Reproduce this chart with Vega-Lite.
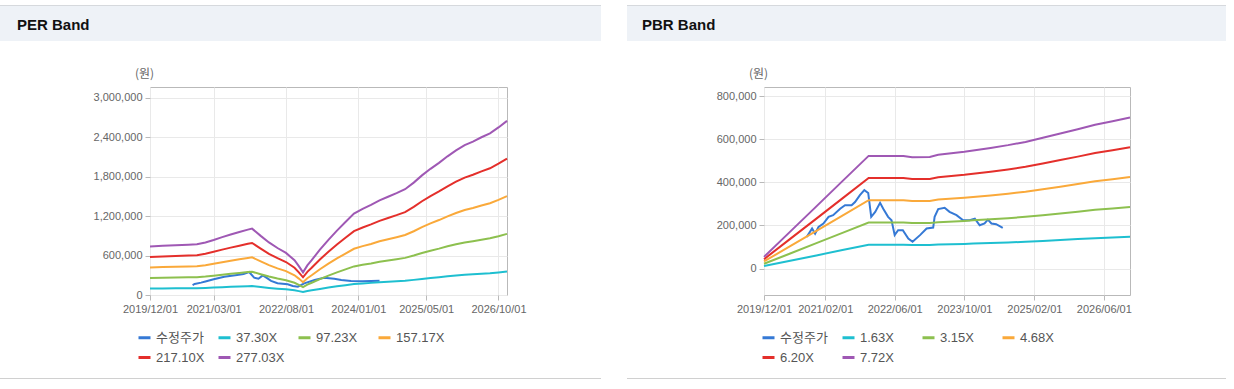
{
  "$schema": "https://vega.github.io/schema/vega-lite/v6.json",
  "background": "white",
  "padding": {"left": 0, "top": 5, "right": 0, "bottom": 0},
  "config": {
    "font": "Liberation Sans",
    "view": {"stroke": "#b9b9b9"},
    "axis": {"labelFont": "Liberation Sans", "labelFontSize": 11, "labelColor": "#666666", "gridColor": "#e9e9e9", "tickColor": "#b9b9b9", "domain": false, "tickSize": 5}
  },
  "datasets": {
    "per": [
      {"d":"2020-10-01","s":"수정주가","v":150000},{"d":"2020-10-16","s":"수정주가","v":168000},{"d":"2020-12-01","s":"수정주가","v":188000},{"d":"2021-01-01","s":"수정주가","v":205000},{"d":"2021-03-01","s":"수정주가","v":240000},{"d":"2021-05-16","s":"수정주가","v":278000},{"d":"2021-08-16","s":"수정주가","v":304000},{"d":"2021-10-01","s":"수정주가","v":318000},{"d":"2021-11-10","s":"수정주가","v":350000},{"d":"2021-12-16","s":"수정주가","v":263000},{"d":"2022-01-16","s":"수정주가","v":248000},{"d":"2022-02-16","s":"수정주가","v":299000},{"d":"2022-03-16","s":"수정주가","v":260000},{"d":"2022-04-16","s":"수정주가","v":215000},{"d":"2022-06-01","s":"수정주가","v":178000},{"d":"2022-08-13","s":"수정주가","v":163000},{"d":"2022-09-19","s":"수정주가","v":137000},{"d":"2022-10-25","s":"수정주가","v":127000},{"d":"2022-12-10","s":"수정주가","v":178000},{"d":"2023-02-22","s":"수정주가","v":228000},{"d":"2023-05-01","s":"수정주가","v":263000},{"d":"2023-07-13","s":"수정주가","v":248000},{"d":"2023-09-01","s":"수정주가","v":228000},{"d":"2023-11-10","s":"수정주가","v":213000},{"d":"2024-02-01","s":"수정주가","v":210000},{"d":"2024-04-01","s":"수정주가","v":213000},{"d":"2024-06-01","s":"수정주가","v":215000},
      {"d":"2019-12-01","s":"37.30X","v":99500},{"d":"2019-12-01","s":"97.23X","v":259400},{"d":"2019-12-01","s":"157.17X","v":419300},{"d":"2019-12-01","s":"217.10X","v":579100},{"d":"2019-12-01","s":"277.03X","v":739000},
      {"d":"2020-03-01","s":"37.30X","v":100700},{"d":"2020-03-01","s":"97.23X","v":262500},{"d":"2020-03-01","s":"157.17X","v":424400},{"d":"2020-03-01","s":"217.10X","v":586200},{"d":"2020-03-01","s":"277.03X","v":748000},
      {"d":"2020-06-01","s":"37.30X","v":101900},{"d":"2020-06-01","s":"97.23X","v":265700},{"d":"2020-06-01","s":"157.17X","v":429500},{"d":"2020-06-01","s":"217.10X","v":593200},{"d":"2020-06-01","s":"277.03X","v":757000},
      {"d":"2020-09-01","s":"37.30X","v":103100},{"d":"2020-09-01","s":"97.23X","v":268800},{"d":"2020-09-01","s":"157.17X","v":434600},{"d":"2020-09-01","s":"217.10X","v":600300},{"d":"2020-09-01","s":"277.03X","v":766000},
      {"d":"2020-11-01","s":"37.30X","v":104200},{"d":"2020-11-01","s":"97.23X","v":271600},{"d":"2020-11-01","s":"157.17X","v":439100},{"d":"2020-11-01","s":"217.10X","v":606600},{"d":"2020-11-01","s":"277.03X","v":774000},
      {"d":"2021-01-01","s":"37.30X","v":107700},{"d":"2021-01-01","s":"97.23X","v":280800},{"d":"2021-01-01","s":"157.17X","v":453900},{"d":"2021-01-01","s":"217.10X","v":626900},{"d":"2021-01-01","s":"277.03X","v":800000},
      {"d":"2021-03-01","s":"37.30X","v":112800},{"d":"2021-03-01","s":"97.23X","v":294100},{"d":"2021-03-01","s":"157.17X","v":475400},{"d":"2021-03-01","s":"217.10X","v":656700},{"d":"2021-03-01","s":"277.03X","v":838000},
      {"d":"2021-05-01","s":"37.30X","v":118600},{"d":"2021-05-01","s":"97.23X","v":309200},{"d":"2021-05-01","s":"157.17X","v":499800},{"d":"2021-05-01","s":"217.10X","v":690400},{"d":"2021-05-01","s":"277.03X","v":881000},
      {"d":"2021-07-01","s":"37.30X","v":123900},{"d":"2021-07-01","s":"97.23X","v":322900},{"d":"2021-07-01","s":"157.17X","v":522000},{"d":"2021-07-01","s":"217.10X","v":721000},{"d":"2021-07-01","s":"277.03X","v":920000},
      {"d":"2021-09-01","s":"37.30X","v":129000},{"d":"2021-09-01","s":"97.23X","v":336200},{"d":"2021-09-01","s":"157.17X","v":543500},{"d":"2021-09-01","s":"217.10X","v":750800},{"d":"2021-09-01","s":"277.03X","v":958000},
      {"d":"2021-11-01","s":"37.30X","v":134000},{"d":"2021-11-01","s":"97.23X","v":349200},{"d":"2021-11-01","s":"157.17X","v":564500},{"d":"2021-11-01","s":"217.10X","v":779800},{"d":"2021-11-01","s":"277.03X","v":995000},
      {"d":"2021-12-01","s":"37.30X","v":136000},{"d":"2021-12-01","s":"97.23X","v":354500},{"d":"2021-12-01","s":"157.17X","v":573000},{"d":"2021-12-01","s":"217.10X","v":791500},{"d":"2021-12-01","s":"277.03X","v":1010000},
      {"d":"2022-02-01","s":"37.30X","v":121200},{"d":"2022-02-01","s":"97.23X","v":315900},{"d":"2022-02-01","s":"157.17X","v":510600},{"d":"2022-02-01","s":"217.10X","v":705300},{"d":"2022-02-01","s":"277.03X","v":900000},
      {"d":"2022-04-01","s":"37.30X","v":107700},{"d":"2022-04-01","s":"97.23X","v":280800},{"d":"2022-04-01","s":"157.17X","v":453900},{"d":"2022-04-01","s":"217.10X","v":626900},{"d":"2022-04-01","s":"277.03X","v":800000},
      {"d":"2022-06-01","s":"37.30X","v":96300},{"d":"2022-06-01","s":"97.23X","v":250900},{"d":"2022-06-01","s":"157.17X","v":405600},{"d":"2022-06-01","s":"217.10X","v":560300},{"d":"2022-06-01","s":"277.03X","v":715000},
      {"d":"2022-08-01","s":"37.30X","v":86200},{"d":"2022-08-01","s":"97.23X","v":224600},{"d":"2022-08-01","s":"157.17X","v":363100},{"d":"2022-08-01","s":"217.10X","v":501600},{"d":"2022-08-01","s":"277.03X","v":640000},
      {"d":"2022-10-01","s":"37.30X","v":71400},{"d":"2022-10-01","s":"97.23X","v":186000},{"d":"2022-10-01","s":"157.17X","v":300700},{"d":"2022-10-01","s":"217.10X","v":415300},{"d":"2022-10-01","s":"277.03X","v":530000},
      {"d":"2022-11-01","s":"37.30X","v":59200},{"d":"2022-11-01","s":"97.23X","v":154400},{"d":"2022-11-01","s":"157.17X","v":249600},{"d":"2022-11-01","s":"217.10X","v":344800},{"d":"2022-11-01","s":"277.03X","v":440000},
      {"d":"2022-12-01","s":"37.30X","v":46300},{"d":"2022-12-01","s":"97.23X","v":120700},{"d":"2022-12-01","s":"157.17X","v":195200},{"d":"2022-12-01","s":"217.10X","v":269600},{"d":"2022-12-01","s":"277.03X","v":344000},
      {"d":"2023-01-01","s":"37.30X","v":60600},{"d":"2023-01-01","s":"97.23X","v":157900},{"d":"2023-01-01","s":"157.17X","v":255300},{"d":"2023-01-01","s":"217.10X","v":352700},{"d":"2023-01-01","s":"277.03X","v":450000},
      {"d":"2023-02-01","s":"37.30X","v":71400},{"d":"2023-02-01","s":"97.23X","v":186000},{"d":"2023-02-01","s":"157.17X","v":300700},{"d":"2023-02-01","s":"217.10X","v":415300},{"d":"2023-02-01","s":"277.03X","v":530000},
      {"d":"2023-04-01","s":"37.30X","v":92900},{"d":"2023-04-01","s":"97.23X","v":242200},{"d":"2023-04-01","s":"157.17X","v":391500},{"d":"2023-04-01","s":"217.10X","v":540700},{"d":"2023-04-01","s":"277.03X","v":690000},
      {"d":"2023-06-01","s":"37.30X","v":113100},{"d":"2023-06-01","s":"97.23X","v":294800},{"d":"2023-06-01","s":"157.17X","v":476600},{"d":"2023-06-01","s":"217.10X","v":658300},{"d":"2023-06-01","s":"277.03X","v":840000},
      {"d":"2023-08-01","s":"37.30X","v":131900},{"d":"2023-08-01","s":"97.23X","v":343900},{"d":"2023-08-01","s":"157.17X","v":556000},{"d":"2023-08-01","s":"217.10X","v":768000},{"d":"2023-08-01","s":"277.03X","v":980000},
      {"d":"2023-10-01","s":"37.30X","v":149500},{"d":"2023-10-01","s":"97.23X","v":389600},{"d":"2023-10-01","s":"157.17X","v":629700},{"d":"2023-10-01","s":"217.10X","v":869900},{"d":"2023-10-01","s":"277.03X","v":1110000},
      {"d":"2023-12-01","s":"37.30X","v":167000},{"d":"2023-12-01","s":"97.23X","v":435200},{"d":"2023-12-01","s":"157.17X","v":703500},{"d":"2023-12-01","s":"217.10X","v":971800},{"d":"2023-12-01","s":"277.03X","v":1240000},
      {"d":"2024-02-01","s":"37.30X","v":176400},{"d":"2024-02-01","s":"97.23X","v":459800},{"d":"2024-02-01","s":"157.17X","v":743200},{"d":"2024-02-01","s":"217.10X","v":1026600},{"d":"2024-02-01","s":"277.03X","v":1310000},
      {"d":"2024-04-01","s":"37.30X","v":184500},{"d":"2024-04-01","s":"97.23X","v":480800},{"d":"2024-04-01","s":"157.17X","v":777300},{"d":"2024-04-01","s":"217.10X","v":1073600},{"d":"2024-04-01","s":"277.03X","v":1370000},
      {"d":"2024-06-01","s":"37.30X","v":193900},{"d":"2024-06-01","s":"97.23X","v":505400},{"d":"2024-06-01","s":"157.17X","v":817000},{"d":"2024-06-01","s":"217.10X","v":1128500},{"d":"2024-06-01","s":"277.03X","v":1440000},
      {"d":"2024-08-01","s":"37.30X","v":201300},{"d":"2024-08-01","s":"97.23X","v":524700},{"d":"2024-08-01","s":"157.17X","v":848200},{"d":"2024-08-01","s":"217.10X","v":1171600},{"d":"2024-08-01","s":"277.03X","v":1495000},
      {"d":"2024-10-01","s":"37.30X","v":208700},{"d":"2024-10-01","s":"97.23X","v":544000},{"d":"2024-10-01","s":"157.17X","v":879400},{"d":"2024-10-01","s":"217.10X","v":1214700},{"d":"2024-10-01","s":"277.03X","v":1550000},
      {"d":"2024-12-01","s":"37.30X","v":216800},{"d":"2024-12-01","s":"97.23X","v":565100},{"d":"2024-12-01","s":"157.17X","v":913400},{"d":"2024-12-01","s":"217.10X","v":1261700},{"d":"2024-12-01","s":"277.03X","v":1610000},
      {"d":"2025-02-01","s":"37.30X","v":230200},{"d":"2025-02-01","s":"97.23X","v":600200},{"d":"2025-02-01","s":"157.17X","v":970200},{"d":"2025-02-01","s":"217.10X","v":1340100},{"d":"2025-02-01","s":"277.03X","v":1710000},
      {"d":"2025-04-01","s":"37.30X","v":245000},{"d":"2025-04-01","s":"97.23X","v":638800},{"d":"2025-04-01","s":"157.17X","v":1032600},{"d":"2025-04-01","s":"217.10X","v":1426300},{"d":"2025-04-01","s":"277.03X","v":1820000},
      {"d":"2025-06-01","s":"37.30X","v":258500},{"d":"2025-06-01","s":"97.23X","v":673900},{"d":"2025-06-01","s":"157.17X","v":1089300},{"d":"2025-06-01","s":"217.10X","v":1504600},{"d":"2025-06-01","s":"277.03X","v":1920000},
      {"d":"2025-08-01","s":"37.30X","v":270600},{"d":"2025-08-01","s":"97.23X","v":705400},{"d":"2025-08-01","s":"157.17X","v":1140400},{"d":"2025-08-01","s":"217.10X","v":1575200},{"d":"2025-08-01","s":"277.03X","v":2010000},
      {"d":"2025-10-01","s":"37.30X","v":284100},{"d":"2025-10-01","s":"97.23X","v":740500},{"d":"2025-10-01","s":"157.17X","v":1197100},{"d":"2025-10-01","s":"217.10X","v":1653500},{"d":"2025-10-01","s":"277.03X","v":2110000},
      {"d":"2025-12-01","s":"37.30X","v":296200},{"d":"2025-12-01","s":"97.23X","v":772100},{"d":"2025-12-01","s":"157.17X","v":1248100},{"d":"2025-12-01","s":"217.10X","v":1724100},{"d":"2025-12-01","s":"277.03X","v":2200000},
      {"d":"2026-02-01","s":"37.30X","v":307000},{"d":"2026-02-01","s":"97.23X","v":800200},{"d":"2026-02-01","s":"157.17X","v":1293500},{"d":"2026-02-01","s":"217.10X","v":1786800},{"d":"2026-02-01","s":"277.03X","v":2280000},
      {"d":"2026-04-01","s":"37.30X","v":314400},{"d":"2026-04-01","s":"97.23X","v":819500},{"d":"2026-04-01","s":"157.17X","v":1324700},{"d":"2026-04-01","s":"217.10X","v":1829900},{"d":"2026-04-01","s":"277.03X","v":2335000},
      {"d":"2026-06-01","s":"37.30X","v":323100},{"d":"2026-06-01","s":"97.23X","v":842300},{"d":"2026-06-01","s":"157.17X","v":1361600},{"d":"2026-06-01","s":"217.10X","v":1880800},{"d":"2026-06-01","s":"277.03X","v":2400000},
      {"d":"2026-08-01","s":"37.30X","v":331200},{"d":"2026-08-01","s":"97.23X","v":863400},{"d":"2026-08-01","s":"157.17X","v":1395700},{"d":"2026-08-01","s":"217.10X","v":1927800},{"d":"2026-08-01","s":"277.03X","v":2460000},
      {"d":"2026-10-01","s":"37.30X","v":343300},{"d":"2026-10-01","s":"97.23X","v":895000},{"d":"2026-10-01","s":"157.17X","v":1446700},{"d":"2026-10-01","s":"217.10X","v":1998400},{"d":"2026-10-01","s":"277.03X","v":2550000},
      {"d":"2026-12-01","s":"37.30X","v":356800},{"d":"2026-12-01","s":"97.23X","v":930100},{"d":"2026-12-01","s":"157.17X","v":1503500},{"d":"2026-12-01","s":"217.10X","v":2076700},{"d":"2026-12-01","s":"277.03X","v":2650000}
    ],
    "pbr": [
      {"d":"2020-09-25","s":"수정주가","v":147000},{"d":"2020-11-01","s":"수정주가","v":186000},{"d":"2020-11-22","s":"수정주가","v":162000},{"d":"2020-12-16","s":"수정주가","v":193000},{"d":"2021-01-19","s":"수정주가","v":209000},{"d":"2021-02-24","s":"수정주가","v":240000},{"d":"2021-03-28","s":"수정주가","v":248000},{"d":"2021-05-16","s":"수정주가","v":278000},{"d":"2021-06-19","s":"수정주가","v":294000},{"d":"2021-08-04","s":"수정주가","v":294000},{"d":"2021-08-28","s":"수정주가","v":309000},{"d":"2021-10-01","s":"수정주가","v":341000},{"d":"2021-11-01","s":"수정주가","v":364000},{"d":"2021-11-28","s":"수정주가","v":351000},{"d":"2021-12-19","s":"수정주가","v":240000},{"d":"2022-01-16","s":"수정주가","v":263000},{"d":"2022-02-19","s":"수정주가","v":305000},{"d":"2022-03-13","s":"수정주가","v":278000},{"d":"2022-04-16","s":"수정주가","v":240000},{"d":"2022-05-10","s":"수정주가","v":224000},{"d":"2022-06-01","s":"수정주가","v":155000},{"d":"2022-06-25","s":"수정주가","v":178000},{"d":"2022-07-28","s":"수정주가","v":178000},{"d":"2022-09-04","s":"수정주가","v":139000},{"d":"2022-10-04","s":"수정주가","v":124000},{"d":"2022-11-25","s":"수정주가","v":155000},{"d":"2023-01-10","s":"수정주가","v":186000},{"d":"2023-02-25","s":"수정주가","v":190000},{"d":"2023-03-07","s":"수정주가","v":240000},{"d":"2023-04-01","s":"수정주가","v":276000},{"d":"2023-05-16","s":"수정주가","v":282000},{"d":"2023-06-19","s":"수정주가","v":263000},{"d":"2023-08-07","s":"수정주가","v":248000},{"d":"2023-09-22","s":"수정주가","v":224000},{"d":"2023-11-07","s":"수정주가","v":224000},{"d":"2023-12-13","s":"수정주가","v":232000},{"d":"2024-01-16","s":"수정주가","v":201000},{"d":"2024-02-19","s":"수정주가","v":209000},{"d":"2024-03-13","s":"수정주가","v":227000},{"d":"2024-04-07","s":"수정주가","v":209000},{"d":"2024-05-10","s":"수정주가","v":206000},{"d":"2024-06-25","s":"수정주가","v":189000},
      {"d":"2019-12-01","s":"1.63X","v":11400},{"d":"2019-12-01","s":"3.15X","v":22000},{"d":"2019-12-01","s":"4.68X","v":32700},{"d":"2019-12-01","s":"6.20X","v":43400},{"d":"2019-12-01","s":"7.72X","v":54000},
      {"d":"2020-06-01","s":"1.63X","v":36200},{"d":"2020-06-01","s":"3.15X","v":69900},{"d":"2020-06-01","s":"4.68X","v":103800},{"d":"2020-06-01","s":"6.20X","v":137600},{"d":"2020-06-01","s":"7.72X","v":171300},
      {"d":"2020-12-01","s":"1.63X","v":60900},{"d":"2020-12-01","s":"3.15X","v":117700},{"d":"2020-12-01","s":"4.68X","v":174900},{"d":"2020-12-01","s":"6.20X","v":231700},{"d":"2020-12-01","s":"7.72X","v":288500},
      {"d":"2021-06-01","s":"1.63X","v":85700},{"d":"2021-06-01","s":"3.15X","v":165600},{"d":"2021-06-01","s":"4.68X","v":246000},{"d":"2021-06-01","s":"6.20X","v":325900},{"d":"2021-06-01","s":"7.72X","v":405800},
      {"d":"2021-12-01","s":"1.63X","v":110400},{"d":"2021-12-01","s":"3.15X","v":213400},{"d":"2021-12-01","s":"4.68X","v":317100},{"d":"2021-12-01","s":"6.20X","v":420000},{"d":"2021-12-01","s":"7.72X","v":523000},
      {"d":"2022-08-01","s":"1.63X","v":110400},{"d":"2022-08-01","s":"3.15X","v":213400},{"d":"2022-08-01","s":"4.68X","v":317100},{"d":"2022-08-01","s":"6.20X","v":420000},{"d":"2022-08-01","s":"7.72X","v":523000},
      {"d":"2022-10-01","s":"1.63X","v":109200},{"d":"2022-10-01","s":"3.15X","v":211000},{"d":"2022-10-01","s":"4.68X","v":313400},{"d":"2022-10-01","s":"6.20X","v":415200},{"d":"2022-10-01","s":"7.72X","v":517000},
      {"d":"2023-02-01","s":"1.63X","v":109400},{"d":"2023-02-01","s":"3.15X","v":211400},{"d":"2023-02-01","s":"4.68X","v":314000},{"d":"2023-02-01","s":"6.20X","v":416000},{"d":"2023-02-01","s":"7.72X","v":518000},
      {"d":"2023-04-01","s":"1.63X","v":111500},{"d":"2023-04-01","s":"3.15X","v":215400},{"d":"2023-04-01","s":"4.68X","v":320100},{"d":"2023-04-01","s":"6.20X","v":424000},{"d":"2023-04-01","s":"7.72X","v":528000},
      {"d":"2023-10-01","s":"1.63X","v":114400},{"d":"2023-10-01","s":"3.15X","v":221200},{"d":"2023-10-01","s":"4.68X","v":328600},{"d":"2023-10-01","s":"6.20X","v":435300},{"d":"2023-10-01","s":"7.72X","v":542000},
      {"d":"2023-12-01","s":"1.63X","v":115700},{"d":"2023-12-01","s":"3.15X","v":223600},{"d":"2023-12-01","s":"4.68X","v":332200},{"d":"2023-12-01","s":"6.20X","v":440100},{"d":"2023-12-01","s":"7.72X","v":548000},
      {"d":"2024-04-01","s":"1.63X","v":118200},{"d":"2024-04-01","s":"3.15X","v":228500},{"d":"2024-04-01","s":"4.68X","v":339500},{"d":"2024-04-01","s":"6.20X","v":449700},{"d":"2024-04-01","s":"7.72X","v":560000},
      {"d":"2024-08-01","s":"1.63X","v":121000},{"d":"2024-08-01","s":"3.15X","v":233800},{"d":"2024-08-01","s":"4.68X","v":347400},{"d":"2024-08-01","s":"6.20X","v":460200},{"d":"2024-08-01","s":"7.72X","v":573000},
      {"d":"2024-12-01","s":"1.63X","v":124200},{"d":"2024-12-01","s":"3.15X","v":239900},{"d":"2024-12-01","s":"4.68X","v":356500},{"d":"2024-12-01","s":"6.20X","v":472200},{"d":"2024-12-01","s":"7.72X","v":588000},
      {"d":"2025-04-01","s":"1.63X","v":128200},{"d":"2025-04-01","s":"3.15X","v":247700},{"d":"2025-04-01","s":"4.68X","v":368000},{"d":"2025-04-01","s":"6.20X","v":487500},{"d":"2025-04-01","s":"7.72X","v":607000},
      {"d":"2025-08-01","s":"1.63X","v":132400},{"d":"2025-08-01","s":"3.15X","v":255800},{"d":"2025-08-01","s":"4.68X","v":380100},{"d":"2025-08-01","s":"6.20X","v":503600},{"d":"2025-08-01","s":"7.72X","v":627000},
      {"d":"2025-12-01","s":"1.63X","v":136600},{"d":"2025-12-01","s":"3.15X","v":264000},{"d":"2025-12-01","s":"4.68X","v":392200},{"d":"2025-12-01","s":"6.20X","v":519600},{"d":"2025-12-01","s":"7.72X","v":647000},
      {"d":"2026-04-01","s":"1.63X","v":141000},{"d":"2026-04-01","s":"3.15X","v":272600},{"d":"2026-04-01","s":"4.68X","v":405000},{"d":"2026-04-01","s":"6.20X","v":536500},{"d":"2026-04-01","s":"7.72X","v":668000},
      {"d":"2026-08-01","s":"1.63X","v":144400},{"d":"2026-08-01","s":"3.15X","v":279100},{"d":"2026-08-01","s":"4.68X","v":414700},{"d":"2026-08-01","s":"6.20X","v":549300},{"d":"2026-08-01","s":"7.72X","v":684000},
      {"d":"2026-12-01","s":"1.63X","v":148000},{"d":"2026-12-01","s":"3.15X","v":286000},{"d":"2026-12-01","s":"4.68X","v":425000},{"d":"2026-12-01","s":"6.20X","v":563000},{"d":"2026-12-01","s":"7.72X","v":701000}
    ]
  },
  "columns": 1,
  "align": "none",
  "spacing": 25,
  "concat": [
    {
      "spacing": 26,
      "hconcat": [
        {
          "spacing": 0,
          "vconcat": [
            {"data": {"values": [{"part": "top border"}]}, "width": 601, "height": 1, "view": {"stroke": null}, "mark": {"type": "rect", "color": "#d6d9dd"}, "encoding": {}},
            {"data": {"values": [{"part": "header"}]}, "width": 601, "height": 35, "view": {"stroke": null}, "mark": {"type": "rect", "color": "#eef2f7"}, "encoding": {},
             "title": {"text": "PER Band", "anchor": "start", "frame": "group", "orient": "top", "offset": -39, "dx": 17, "font": "Liberation Sans", "fontSize": 15, "fontWeight": "bold", "color": "#111111", "baseline": "alphabetic"}}
          ]
        },
        {
          "spacing": 0,
          "vconcat": [
            {"data": {"values": [{"part": "top border"}]}, "width": 599, "height": 1, "view": {"stroke": null}, "mark": {"type": "rect", "color": "#d6d9dd"}, "encoding": {}},
            {"data": {"values": [{"part": "header"}]}, "width": 599, "height": 35, "view": {"stroke": null}, "mark": {"type": "rect", "color": "#eef2f7"}, "encoding": {},
             "title": {"text": "PBR Band", "anchor": "start", "frame": "group", "orient": "top", "offset": -39, "dx": 15, "font": "Liberation Sans", "fontSize": 15, "fontWeight": "bold", "color": "#111111", "baseline": "alphabetic"}}
          ]
        }
      ]
    },
    {
      "columns": 1,
      "align": "none",
      "spacing": 12,
      "concat": [
        {
          "spacing": 10,
          "resolve": {"scale": {"x": "independent", "y": "independent", "color": "independent"}, "legend": {"color": "independent"}},
          "hconcat": [
            {"data": {"values": [{"part": "left margin"}]}, "width": 1, "height": 208, "view": {"stroke": null}, "mark": {"type": "rect", "opacity": 0}, "encoding": {}},
            {
              "width": 357, "height": 208,
              "data": {"name": "per"},
              "mark": {"type": "line", "strokeWidth": 2},
              "encoding": {
                "x": {"field": "d", "type": "temporal",
                  "scale": {"type": "utc", "domain": [{"year": 2019, "month": 12, "date": 1, "utc": true}, {"year": 2026, "month": 12, "date": 1, "utc": true}]},
                  "axis": {"title": null, "format": "%Y/%m/%d", "labelFlush": false, "labelOverlap": false, "labelPadding": 3, "grid": true,
                    "values": [{"year": 2019, "month": 12, "date": 1, "utc": true}, {"year": 2021, "month": 3, "date": 1, "utc": true}, {"year": 2022, "month": 8, "date": 1, "utc": true}, {"year": 2024, "month": 1, "date": 1, "utc": true}, {"year": 2025, "month": 5, "date": 1, "utc": true}, {"year": 2026, "month": 10, "date": 1, "utc": true}]}},
                "y": {"field": "v", "type": "quantitative",
                  "scale": {"domain": [0, 3165000], "nice": false, "zero": false},
                  "axis": {"values": [0, 600000, 1200000, 1800000, 2400000, 3000000], "format": ",d", "grid": true, "labelPadding": 3, "minExtent": 138,
                    "title": "(원)", "titleAngle": 0, "titleX": -6, "titleY": -14, "titleAlign": "center", "titleBaseline": "middle", "titleFont": "Noto Sans CJK KR", "titleFontSize": 12, "titleFontWeight": "normal", "titleColor": "#666666"}},
                "color": {"field": "s", "type": "nominal",
                  "scale": {"domain": ["수정주가", "37.30X", "97.23X", "157.17X", "217.10X", "277.03X"], "range": ["#3579d5", "#1ebfd0", "#8dc04f", "#faa93a", "#e42f2b", "#9f58b4"]},
                  "legend": {"orient": "none", "legendX": -13, "legendY": 243, "direction": "horizontal", "columns": 4, "title": null, "symbolType": "stroke", "symbolSize": 144, "symbolStrokeWidth": 3, "labelFontSize": 13, "labelColor": "#555555", "labelFont": "Liberation Sans, Noto Sans CJK KR", "columnPadding": 7, "rowPadding": 5, "gridAlign": "all", "labelOffset": 4, "padding": 0}}
              }
            },
            {
              "width": 366, "height": 208,
              "data": {"name": "pbr"},
              "mark": {"type": "line", "strokeWidth": 2},
              "encoding": {
                "x": {"field": "d", "type": "temporal",
                  "scale": {"type": "utc", "domain": [{"year": 2019, "month": 12, "date": 1, "utc": true}, {"year": 2026, "month": 12, "date": 1, "utc": true}]},
                  "axis": {"title": null, "format": "%Y/%m/%d", "labelFlush": false, "labelOverlap": false, "labelPadding": 3, "grid": true,
                    "values": [{"year": 2019, "month": 12, "date": 1, "utc": true}, {"year": 2021, "month": 2, "date": 1, "utc": true}, {"year": 2022, "month": 6, "date": 1, "utc": true}, {"year": 2023, "month": 10, "date": 1, "utc": true}, {"year": 2025, "month": 2, "date": 1, "utc": true}, {"year": 2026, "month": 6, "date": 1, "utc": true}]}},
                "y": {"field": "v", "type": "quantitative",
                  "scale": {"domain": [-123000, 843000], "nice": false, "zero": false},
                  "axis": {"values": [0, 200000, 400000, 600000, 800000], "format": ",d", "grid": true, "labelPadding": 3, "minExtent": 226,
                    "title": "(원)", "titleAngle": 0, "titleX": -6, "titleY": -14, "titleAlign": "center", "titleBaseline": "middle", "titleFont": "Noto Sans CJK KR", "titleFontSize": 12, "titleFontWeight": "normal", "titleColor": "#666666"}},
                "color": {"field": "s", "type": "nominal",
                  "scale": {"domain": ["수정주가", "1.63X", "3.15X", "4.68X", "6.20X", "7.72X"], "range": ["#3579d5", "#1ebfd0", "#8dc04f", "#faa93a", "#e42f2b", "#9f58b4"]},
                  "legend": {"orient": "none", "legendX": -3, "legendY": 243, "direction": "horizontal", "columns": 4, "title": null, "symbolType": "stroke", "symbolSize": 144, "symbolStrokeWidth": 3, "labelFontSize": 13, "labelColor": "#555555", "labelFont": "Liberation Sans, Noto Sans CJK KR", "columnPadding": 8, "rowPadding": 5, "gridAlign": "all", "labelOffset": 4, "padding": 0}}
              }
            }
          ]
        },
        {
          "spacing": 26,
          "hconcat": [
            {"data": {"values": [{"part": "bottom border"}]}, "width": 601, "height": 1, "view": {"stroke": null}, "mark": {"type": "rect", "color": "#d0d0d0"}, "encoding": {}},
            {"data": {"values": [{"part": "bottom border"}]}, "width": 599, "height": 1, "view": {"stroke": null}, "mark": {"type": "rect", "color": "#d0d0d0"}, "encoding": {}}
          ]
        }
      ]
    }
  ]
}
